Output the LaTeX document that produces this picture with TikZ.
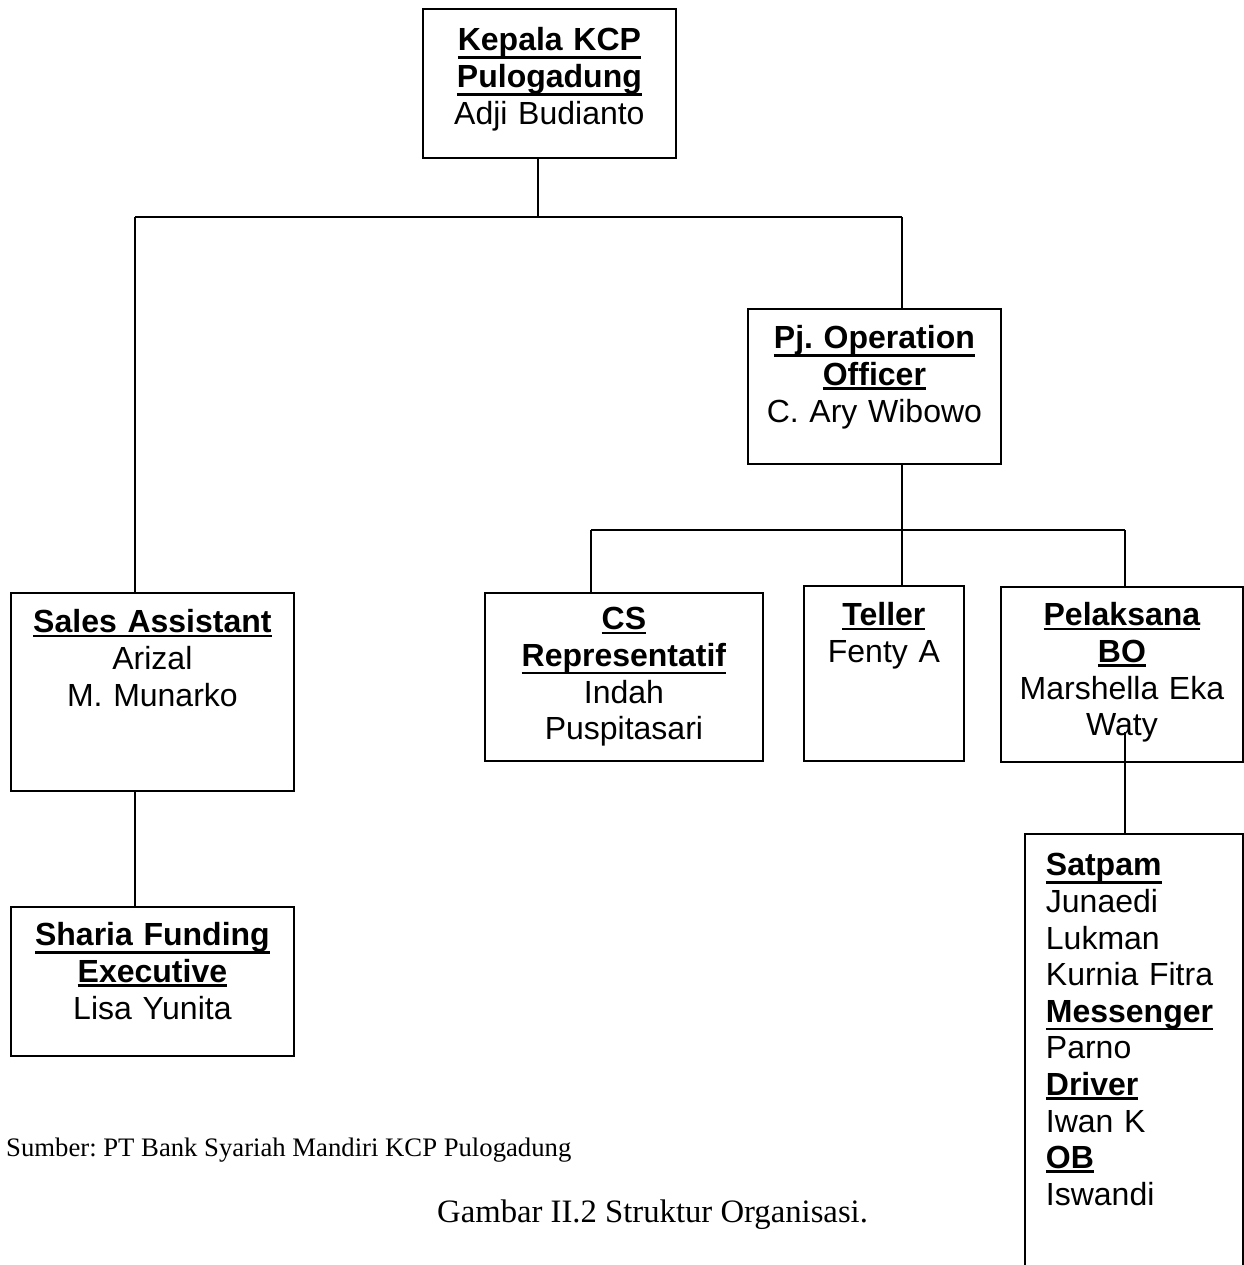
\documentclass[tikz,border=0pt]{standalone}
\usepackage{fontspec}
\setmainfont{Liberation Sans}
\newfontfamily\capfont{Liberation Serif}
\usetikzlibrary{positioning}
\frenchspacing

% bold, underlined job title
\newsavebox{\jabbox}
\newcommand{\jab}[1]{\leavevmode\sbox{\jabbox}{\bfseries #1}\rlap{\rule[-\dimexpr 6\dp\jabbox/10+4pt\relax]{\wd\jabbox}{2.5pt}}\usebox{\jabbox}}

\begin{document}
\begin{tikzpicture}[
    x=1pt, y=-1pt,
    every node/.style={font=\fontsize{32}{36.6}\selectfont},
    orgbox/.style={rectangle, draw=black, line width=1.8pt, anchor=north west, inner sep=0pt, align=center},
    listbox/.style={rectangle, draw=black, line width=1.8pt, anchor=north west, inner xsep=21pt, inner ysep=0pt, align=left},
    caption/.style={anchor=base west, inner sep=0pt, font=\capfont\fontsize{26.7}{30}\selectfont},
    link/.style={line width=1.8pt}
]
\useasboundingbox (0,0) rectangle (1243,1265);

% Pimpinan
\node (kcp) [orgbox, text width=253pt, text height=42pt, text depth=107pt] at (422,8)
    {\jab{Kepala KCP}\\\jab{Pulogadung}\\Adji Budianto};
\node (pj_oo) [orgbox, text width=253pt, text height=40pt, text depth=115pt] at (747,308)
    {\jab{Pj. Operation}\\\jab{Officer}\\C. Ary Wibowo};

% Marketing
\node (sales) [orgbox, text width=283pt, text height=40pt, text depth=158pt] at (10,592)
    {\jab{Sales Assistant}\\Arizal\\M. Munarko};
\node (sharia) [orgbox, text width=283pt, text height=39pt, text depth=110pt] at (10,906)
    {\jab{Sharia Funding}\\\jab{Executive}\\Lisa Yunita};

% Operasional
\node (cs) [orgbox, text width=278pt, text height=37pt, text depth=131pt] at (484,592)
    {\jab{CS}\\\jab{Representatif}\\Indah\\Puspitasari};
\node (teller) [orgbox, text width=160pt, text height=40pt, text depth=135pt] at (803,585)
    {\jab{Teller}\\Fenty A};
\node (bo) [orgbox, text width=242pt, text height=39pt, text depth=136pt] at (1000,586)
    {\jab{Pelaksana}\\\jab{BO}\\Marshella Eka\\Waty};
\node (satpam) [listbox, text width=176pt, text height=42pt, text depth=420pt] at (1024,833)
    {\jab{Satpam}\\Junaedi\\Lukman\\Kurnia Fitra\\\jab{Messenger}\\Parno\\\jab{Driver}\\Iwan K\\\jab{OB}\\Iswandi};

% Keterangan
\node (sumber) [caption] at (6,1156) {Sumber: PT Bank Syariah Mandiri KCP Pulogadung};
\node (gambar) [caption, font=\capfont\fontsize{32.7}{36}\selectfont] at (437,1222) {Gambar II.2 Struktur Organisasi.};

% Garis
\coordinate (bus1) at (538,217);
\coordinate (bus1_l) at (135,217);
\coordinate (bus1_r) at (902,217);
\coordinate (bus2) at (902,530);
\coordinate (bus2_l) at (591,530);
\coordinate (bus2_r) at (1125,530);
\coordinate (bo_tail) at (1125,732);

\draw [link] (kcp.south -| bus1) -- (bus1);
\draw [link] (bus1_l) -- (bus1_r);
\draw [link] (bus1_l) -- (sales.north -| bus1_l);
\draw [link] (bus1_r) -- (pj_oo.north -| bus1_r);
\draw [link] (sales.south -| bus1_l) -- (sharia.north -| bus1_l);
\draw [link] (pj_oo.south -| bus2) -- (bus2);
\draw [link] (bus2_l) -- (bus2_r);
\draw [link] (bus2_l) -- (cs.north -| bus2_l);
\draw [link] (bus2) -- (teller.north -| bus2);
\draw [link] (bus2_r) -- (bo.north -| bus2_r);
\draw [link] (bo_tail) -- (satpam.north -| bo_tail);

\end{tikzpicture}
\end{document}
